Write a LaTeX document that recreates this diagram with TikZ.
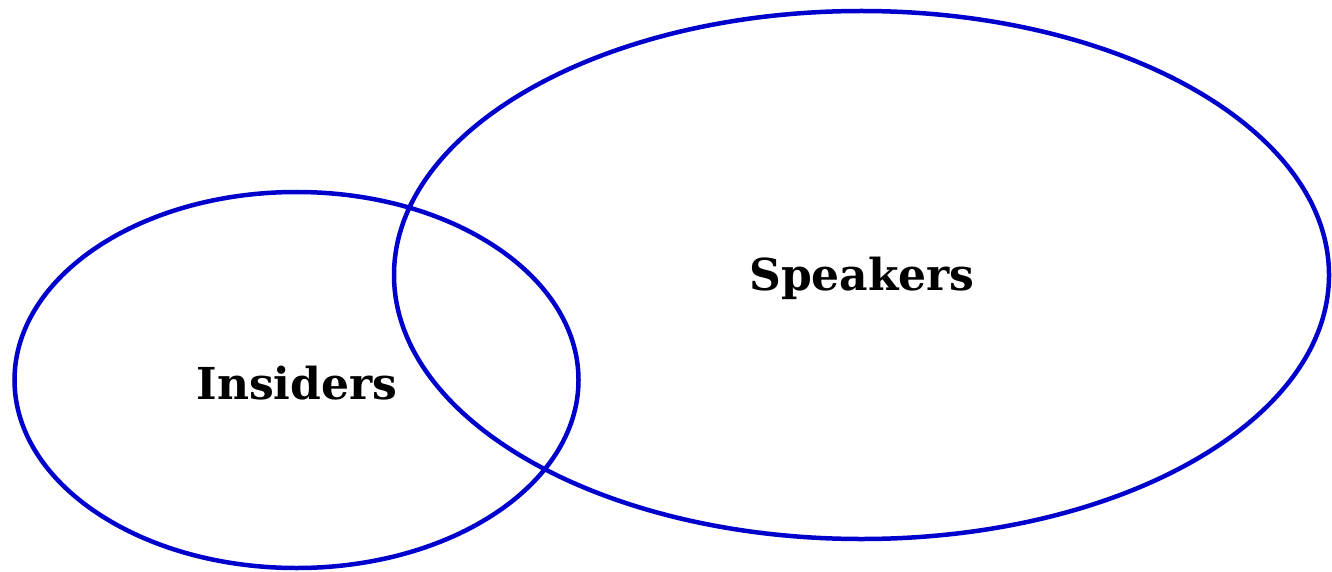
\documentclass[tikz,border=0pt]{standalone}
\usepackage{fontspec}
\setmainfont{DejaVu Serif}
\definecolor{vennblue}{RGB}{0,0,204}
\begin{document}
\begin{tikzpicture}[x=1pt,y=-1pt,
  setline/.style={draw=vennblue,line width=4.5pt},
  setlabel/.style={font=\fontsize{44}{50}\selectfont\bfseries,text=black,inner sep=0pt}]
\useasboundingbox (0,0) rectangle (1332,572);
\draw[setline] (296.5,380) ellipse [x radius=282, y radius=188];
\draw[setline] (861.5,275) ellipse [x radius=467.5, y radius=264];
\node[setlabel] (speakers) at (862,278) {Speakers};
\node[setlabel] (insiders) at (297,383) {Insiders};
\end{tikzpicture}
\end{document}
